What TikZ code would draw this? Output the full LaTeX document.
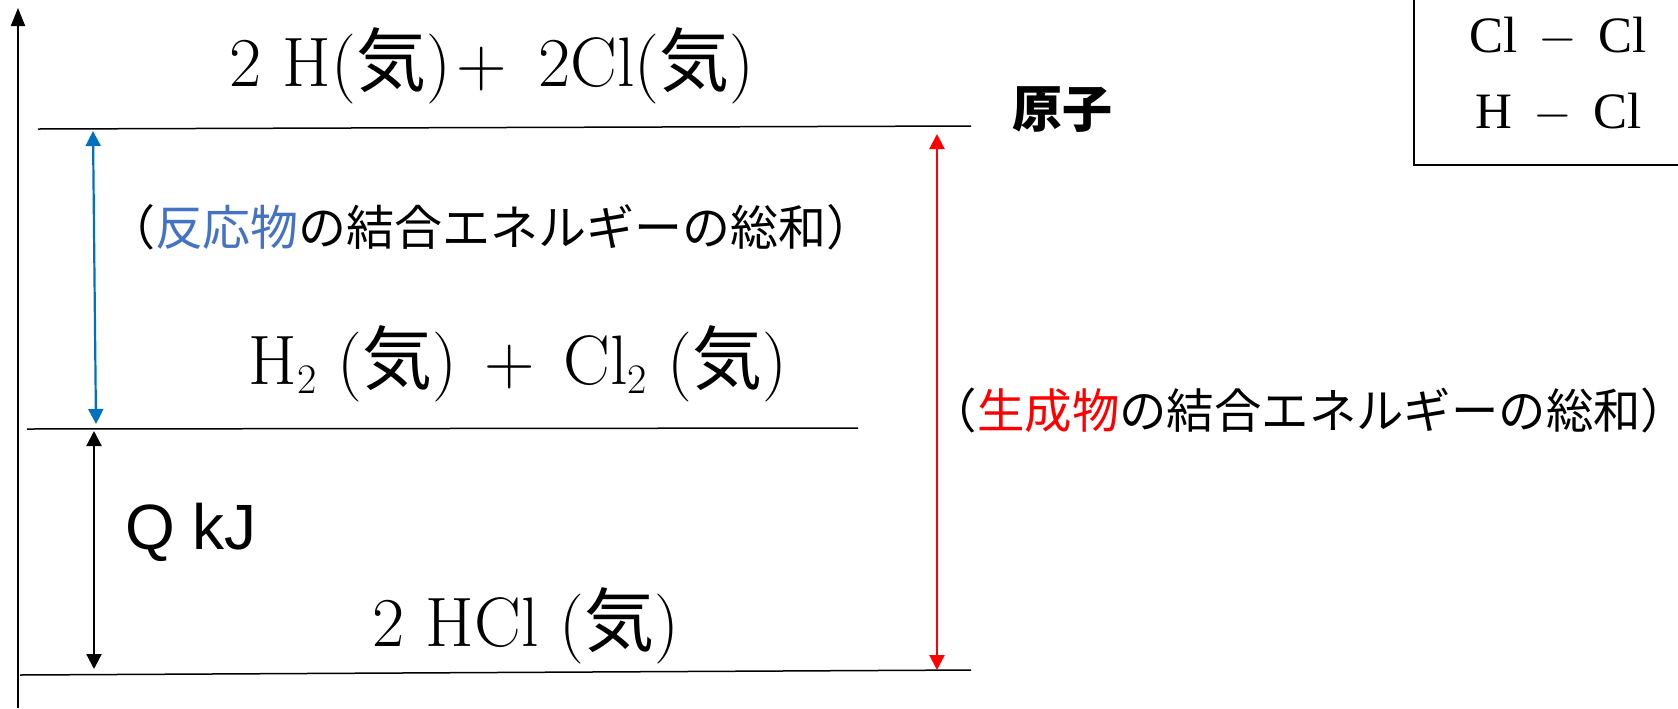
\documentclass[tikz,border=0pt]{standalone}
\usepackage{fontspec}
\newfontfamily\tnr{Liberation Serif}
\newfontfamily\jp{Noto Sans CJK JP}
\newfontfamily\qf{Liberation Sans}
\usetikzlibrary{arrows.meta}
\definecolor{arrblue}{RGB}{0,112,192}
\definecolor{txtblue}{RGB}{68,114,196}
\definecolor{myred}{RGB}{255,0,0}
\newcommand{\ki}{{\jp 気}}
\newcommand{\subtwo}{\raisebox{-0.12em}{\fontsize{21}{21}\selectfont 2}}
\newcommand{\lpar}{\makebox[0.5em][r]{（}}
\newcommand{\rpar}{\makebox[0.5em][l]{）}}
\tikzset{
  level/.style={line width=0.75pt, draw=black},
  dbl/.style={line width=1.1pt, {Triangle[width=7.5pt,length=7.5pt]}-{Triangle[width=7.5pt,length=7.5pt]}},
  formula/.style={font=\fontsize{35}{40}\selectfont, inner sep=0pt},
  jlabel/.style={font=\jp\fontsize{24}{28}\selectfont, inner sep=0pt},
  bondtxt/.style={font=\tnr\fontsize{25.5}{30}\selectfont, inner sep=0pt},
}
\begin{document}
\begin{tikzpicture}[x=0.5pt,y=-0.5pt]
\useasboundingbox (0,0) rectangle (1678,708);
% axis
\coordinate (axb) at (18,708);
\coordinate (axt) at (18,8);
\draw[line width=1pt, -{Triangle[width=7pt,length=9pt]}] (axb) -- (axt);
% levels
\coordinate (t1) at (38,129); \coordinate (t2) at (971,126);
\coordinate (m1) at (27,429); \coordinate (m2) at (858,428);
\coordinate (b1) at (20,675); \coordinate (b2) at (971,670);
\draw[level] (t1) -- (t2);
\draw[level] (m1) -- (m2);
\draw[level] (b1) -- (b2);
% arrows
\coordinate (bu1) at (93,131); \coordinate (bu2) at (96,424);
\draw[dbl, draw=arrblue, fill=arrblue] (bu1) -- (bu2);
\coordinate (k1) at (94,431); \coordinate (k2) at (94,669);
\draw[dbl, draw=black, fill=black] (k1) -- (k2);
\coordinate (r1) at (937,134); \coordinate (r2) at (937,670);
\draw[dbl, draw=myred, fill=myred] (r1) -- (r2);
% texts
\node[formula] (top) at (492,66) {2\hspace{0.3em}H(\ki)\hspace{0.08em}+\hspace{0.45em}2Cl(\ki)};
\node[font=\jp\bfseries\fontsize{25}{28}\selectfont, inner sep=0pt] (atom) at (1062,110) {原子};
\node[jlabel] (react) at (491,227) {\lpar{\color{txtblue}反応物}の結合エネルギーの総和\rpar};
\node[formula] (mid) at (518,364) {H\subtwo\hspace{0.3em}(\ki)\hspace{0.4em}+\hspace{0.4em}Cl\subtwo\hspace{0.3em}(\ki)};
\node[jlabel, font=\jp\fontsize{23.7}{28}\selectfont] (prod) at (1309,410) {\lpar{\color{myred}生成物}の結合エネルギーの総和\rpar};
\node[font=\qf\fontsize{32}{36}\selectfont, inner sep=0pt] (q) at (191,532) {Q kJ};
\node[formula] (hcl) at (526,626) {2 HCl (\ki)};
% bond box
\coordinate (bx1) at (1414,-5); \coordinate (bx2) at (1690,165);
\draw[line width=1pt] (bx1) |- (bx2);
\node[bondtxt] (clcl) at (1558,37) {Cl \,$-$\, Cl};
\node[bondtxt] (hcl2) at (1559,113) {H \,$-$\, Cl};
\end{tikzpicture}
\end{document}
